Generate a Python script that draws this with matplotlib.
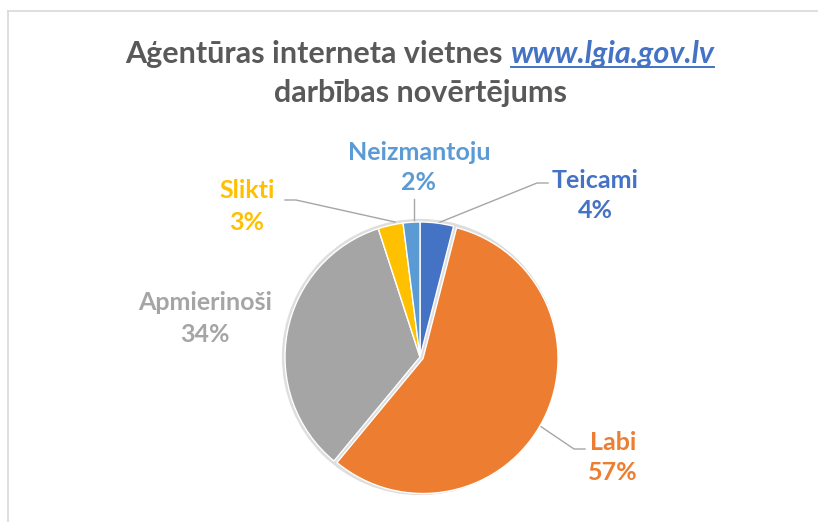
import matplotlib
matplotlib.use("Agg")
import matplotlib.pyplot as plt
from matplotlib.patches import Circle

categories = ['Teicami', 'Labi', 'Apmierinoši', 'Slikti', 'Neizmantoju']
values = [4, 57, 34, 3, 2]
colors = ['#4472C4', '#ED7D31', '#A5A5A5', '#FFC000', '#5B9BD5']
title_part1 = 'Aģentūras interneta vietnes '
title_url = 'www.lgia.gov.lv'
title_line2 = 'darbības novērtējums'

W, H = 818, 522
CX, CY, R = 420, 357, 135

def P(px, py):
    return ((px - CX) / R, (CY - py) / R)

FONT = 'Lato'
WEIGHT = 'bold'
fig = plt.figure(figsize=(W / 100, H / 100), dpi=100)
ax = fig.add_axes([0, 0, 1, 1])

# shadow behind the pie
ax.add_patch(Circle((0, 0), 1.018, color='#dedede', zorder=0))

explode = [0, 0.025, 0, 0, 0]
wedges, _ = ax.pie(values, colors=colors, startangle=90, counterclock=False,
                   radius=1, explode=explode,
                   wedgeprops=dict(edgecolor='white', linewidth=1.0))
for w in wedges:
    w.set_zorder(2)

ax.set_xlim(-CX / R, (W - CX) / R)
ax.set_ylim((CY - H) / R, CY / R)
ax.axis('off')

# frame
fig.add_artist(plt.Line2D([8 / W, 1], [1 - 11 / H, 1 - 11 / H], color='#d9d9d9', lw=1.2))
fig.add_artist(plt.Line2D([8 / W, 8 / W], [0, 1 - 11 / H], color='#d9d9d9', lw=1.2))

# labels: (center x, name y, pct y) in pixels
label_pos = {
    'Teicami': (595, 180, 211),
    'Labi': (613, 443, 473),
    'Apmierinoši': (205, 302, 334),
    'Slikti': (247, 190, 222),
    'Neizmantoju': (419, 152, 183),
}
leaders = {
    'Teicami': [(438, 223), (537, 183), (548, 183)],
    'Labi': [(540, 426), (574, 449), (585, 449)],
    'Slikti': [(395, 222), (296, 200), (285, 200)],
    'Neizmantoju': [(414, 223), (414, 199)],
}
for cat, val, col in zip(categories, values, colors):
    x, y1, y2 = label_pos[cat]
    ax.text(*P(x, y1), cat, ha='center', va='center', color=col,
            fontsize=18, fontweight=WEIGHT, family=FONT)
    ax.text(*P(x, y2), f'{val}%', ha='center', va='center', color=col,
            fontsize=18, fontweight=WEIGHT, family=FONT)
    if cat in leaders:
        pts = [P(a, b) for a, b in leaders[cat]]
        ax.plot([p[0] for p in pts], [p[1] for p in pts], color='#A6A6A6', lw=1.0, zorder=1)

# title
fig.canvas.draw()
r = fig.canvas.get_renderer()
TS = 22
t1 = fig.text(0, 0, title_part1, fontsize=TS, fontweight=WEIGHT, color='#595959', family=FONT,
              va='baseline', ha='left')
t2 = fig.text(0, 0, title_url, fontsize=TS, fontweight=WEIGHT, style='italic', color='#4472C4',
              family=FONT, va='baseline', ha='left')
w1 = t1.get_window_extent(r).width
w2 = t2.get_window_extent(r).width
total = w1 + w2
x0 = (420 - total / 2)
base_y = 63
t1.set_position((x0 / W, 1 - base_y / H))
t2.set_position(((x0 + w1) / W, 1 - base_y / H))
fig.add_artist(plt.Line2D([(x0 + w1) / W, (x0 + w1 + w2) / W],
                          [1 - (base_y + 4) / H, 1 - (base_y + 4) / H], color='#4472C4', lw=1.4))
fig.text(420 / W, 1 - 102 / H, title_line2, fontsize=TS, fontweight=WEIGHT, color='#595959',
         family=FONT, va='baseline', ha='center')

fig.savefig('out.png', dpi=100, facecolor='white')
